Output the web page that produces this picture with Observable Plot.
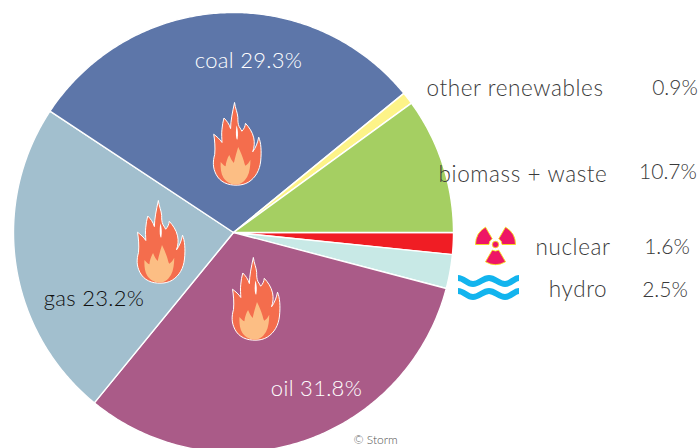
<!DOCTYPE html>
<html><head><meta charset="utf-8">
<style>html,body{margin:0;padding:0;background:#fff}svg{display:block}
#chart g.inpie text{letter-spacing:.3px}#chart g.names text{letter-spacing:.6px}</style>
<script src="https://cdn.jsdelivr.net/npm/d3@7"></script>
<script src="https://cdn.jsdelivr.net/npm/@observablehq/plot@0.6"></script>
</head><body><div id="chart"></div>
<script>
// Data, clockwise from the horizontal at the right of the pie
const sources = ["nuclear","hydro","oil","gas","coal","other renewables","biomass + waste"];
const labelled = ["1.6%","2.5%","31.8%","23.2%","29.3%","0.9%","10.7%"];           // as printed
const sliceSizes = [1.6, 2.5, 31.8, 23.4, 29.8, 0.9, 10.0];                        // as drawn, measured from the slice edges
const colors  = ["#f01d24","#c8e9e6","#aa5b88","#a2bfce","#5d76a9","#fdf388","#a5cf62"];

// Layout (page pixels)
const center = [233, 232], radius = 220;
const dark = "#3a3a3a";
const inPieRows = [
  {t:`${sources[4]} ${labelled[4]}`, x:248, y:60, fill:"#fff"},
  {t:`${sources[3]} ${labelled[3]}`, x:93.5, y:298, fill:"#111"},
  {t:`${sources[2]} ${labelled[2]}`, x:316, y:388, fill:"#fff"}
];
const nameRows = [
  {t:sources[5], x:514.5, y:88},
  {t:sources[6], x:522.5, y:174},
  {t:sources[0], x:572.5, y:247},
  {t:sources[1], x:577.5, y:289}
];
const percentRows = [
  {t:labelled[5], x:674.5, y:88},
  {t:labelled[6], x:667.5, y:172},
  {t:labelled[0], x:666.5, y:247},
  {t:labelled[1], x:664.5, y:290}
];

// Icons
const uri = s => "data:image/svg+xml," + encodeURIComponent(s);
const flame = uri(`<svg xmlns="http://www.w3.org/2000/svg" viewBox="60 27 160 266">
<path d="M140 285C112 286 88 276 76 252C66 232 66 214 72 192C74 170 72 150 69 131C78 138 88 146 94 156C94 146 92 130 94 116C95 104 97 92 100 82C108 90 116 100 120 114C120 92 126 62 132 35C134 52 141 66 142 80C142 90 142 100 146 108C150 114 152 118 154 122C160 116 164 108 165 98C176 110 186 124 190 142C193 156 192 170 187 184C196 172 202 156 205 140C212 156 214 182 211 212C208 240 196 262 174 276C164 282 152 285 140 285Z" fill="#f46d4d" stroke="#fff" stroke-width="3" stroke-linejoin="round"/>
<path d="M135 283C118 283 106 274 98 262C91 250 89 232 90 215C96 222 100 226 105 228C106 216 110 204 116 194C120 204 124 212 130 218C134 200 138 186 143 170C150 184 156 198 160 212C162 220 163 224 165 226C172 222 176 216 180 208C180 226 178 246 170 260C160 276 150 283 135 283Z" fill="#fcbe84"/>
<path d="M138 104C142 116 144 130 141 146C137 152 134 130 138 104Z" fill="#fff"/></svg>`);
const blade = a => {
  const r0 = 6.5, r1 = 20, w = Math.PI / 6, p = (r, t) => [21 + r * Math.cos(t), 21 + r * Math.sin(t)].map(v => v.toFixed(2)).join(" ");
  return `M${p(r0, a - w)}L${p(r1, a - w)}A${r1} ${r1} 0 0 1 ${p(r1, a + w)}L${p(r0, a + w)}A${r0} ${r0} 0 0 0 ${p(r0, a - w)}Z`;
};
const radiation = uri(`<svg xmlns="http://www.w3.org/2000/svg" viewBox="0 0 42 42">
<g fill="#ee1566" stroke="#f6dc1a" stroke-width="0.9">
<path d="${blade(Math.PI / 2)}"/><path d="${blade(-Math.PI / 6)}"/><path d="${blade(7 * Math.PI / 6)}"/>
<circle cx="21" cy="21" r="3.2"/></g></svg>`);
const waves = uri(`<svg xmlns="http://www.w3.org/2000/svg" viewBox="0 0 61 26">
<g fill="none" stroke="#12b4ee" stroke-width="6">
<path d="M0 3.5C6 3.5 9 9.5 15 9.5C21 9.5 25 3.5 31 3.5C37 3.5 41 9.5 47 9.5C53 9.5 56 3.5 61 3.5"/>
<path d="M0 16.5C6 16.5 9 22.5 15 22.5C21 22.5 25 16.5 31 16.5C37 16.5 41 22.5 47 22.5C53 22.5 56 16.5 61 16.5"/>
</g></svg>`);
const iconRows = [
  {src:flame, x:236.7, y:143.3, w:53, h:88},
  {src:flame, x:160.5, y:241.3, w:53, h:88},
  {src:flame, x:255.5, y:298.3, w:53, h:88},
  {src:radiation, x:495, y:244, w:42, h:42},
  {src:waves, x:488, y:287, w:61, h:26}
];

// Slice outlines are derived from the slice sizes
const toAngle = d3.scaleLinear().domain([0, d3.sum(sliceSizes)]).range([0, 2 * Math.PI]);
const slicePoints = [];
let running = 0;
sources.forEach((name, i) => {
  const a0 = toAngle(running), a1 = toAngle(running + sliceSizes[i]);
  slicePoints.push({name, x:center[0], y:center[1]});
  const n = Math.max(2, Math.ceil((a1 - a0) / 0.01));
  for (let k = 0; k <= n; k++) {
    const a = a0 + (a1 - a0) * k / n;
    slicePoints.push({name, x:center[0] + radius * Math.cos(a), y:center[1] + radius * Math.sin(a)});
  }
  slicePoints.push({name, x:center[0], y:center[1]});
  running += sliceSizes[i];
});

const font = "Lato, sans-serif";
const plot = Plot.plot({
  width:699, height:448, margin:0,
  style:{background:"#fff"},
  x:{domain:[0,699], range:[0,699], axis:null},
  y:{domain:[0,448], range:[0,448], axis:null},
  color:{domain:sources, range:colors},
  marks:[
    Plot.line(slicePoints, {x:"x", y:"y", z:"name", fill:"name", stroke:"#fff", strokeWidth:1.4, curve:"linear"}),
    Plot.image(iconRows, {x:"x", y:"y", width:"w", height:"h", src:"src"}),
    Plot.text(inPieRows, {x:"x", y:"y", text:"t", fill:"fill", fontFamily:font, fontWeight:300, fontSize:22, className:"inpie"}),
    Plot.text(nameRows, {x:"x", y:"y", text:"t", fill:dark, fontFamily:font, fontWeight:300, fontSize:22.5, className:"names"}),
    Plot.text(percentRows, {x:"x", y:"y", text:"t", fill:dark, fontFamily:font, fontWeight:300, fontSize:21}),
    Plot.text(["© Storm"], {x:[375], y:[440], text:d=>d, fill:"#555", fontFamily:font, fontWeight:300, fontSize:12})
  ]
});
document.getElementById("chart").append(plot);
</script></body></html>
